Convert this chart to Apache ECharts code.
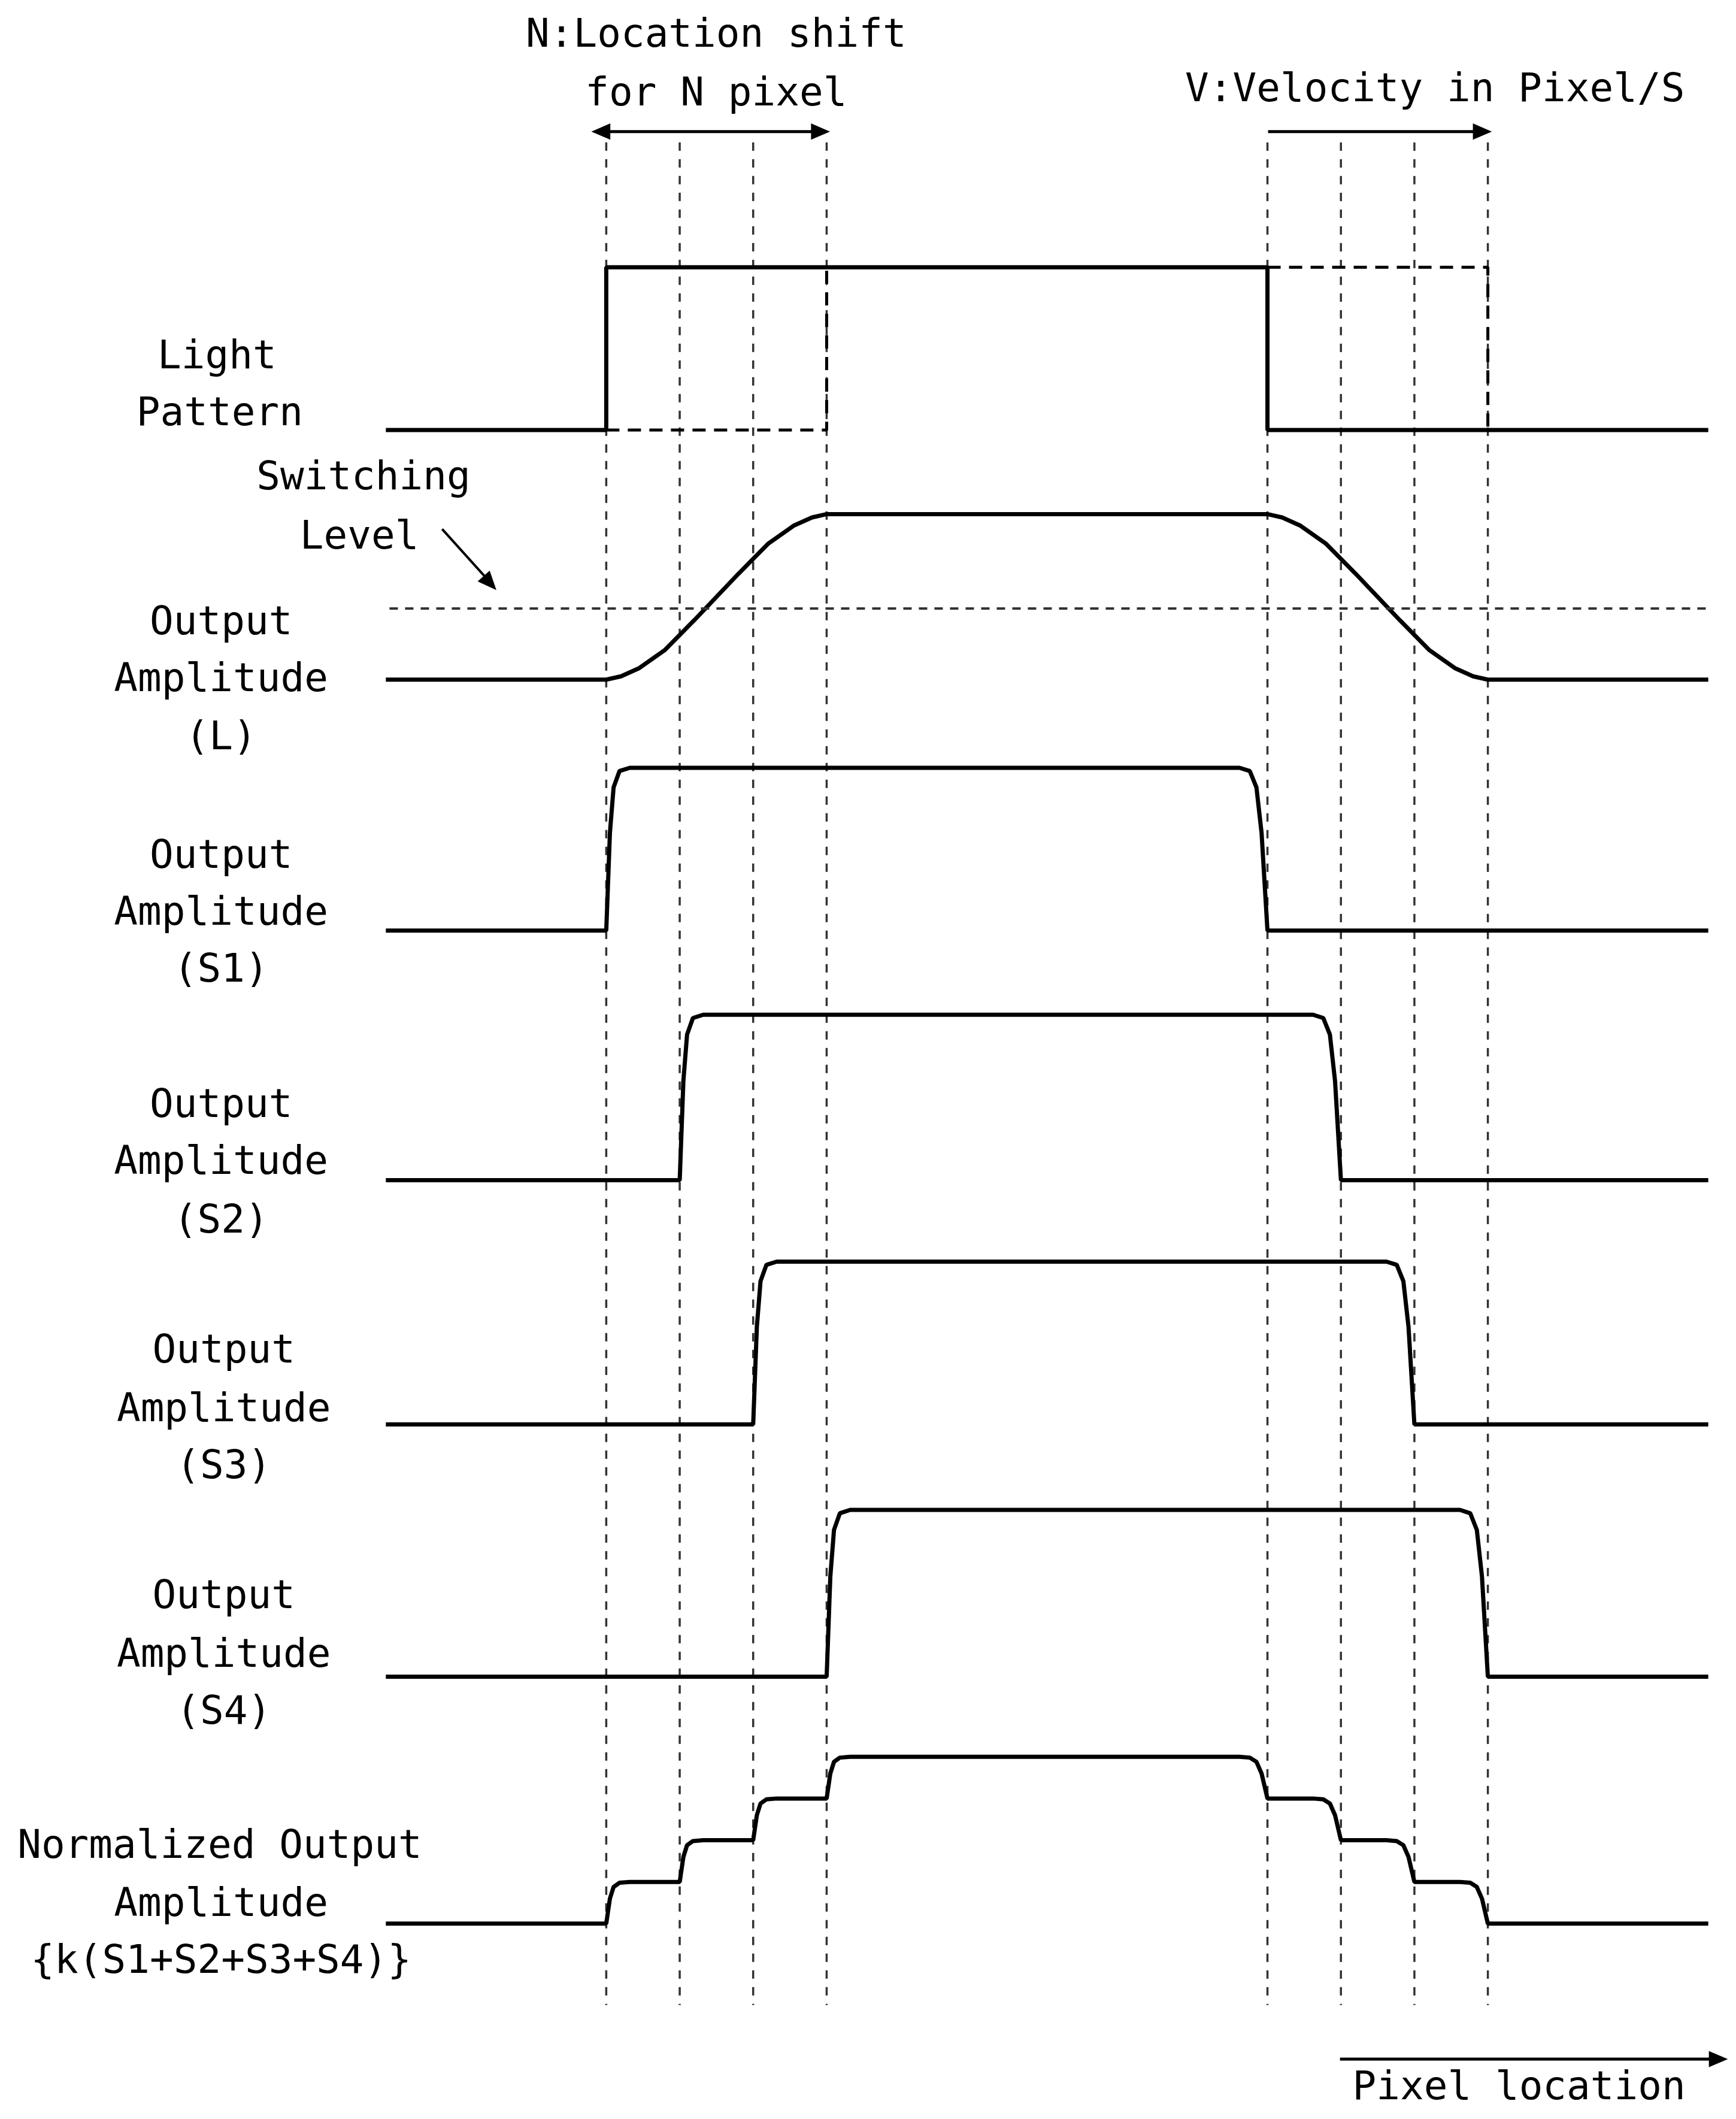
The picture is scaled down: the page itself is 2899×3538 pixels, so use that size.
<!DOCTYPE html>
<html><head><meta charset="utf-8">
<script src="https://cdn.jsdelivr.net/npm/echarts@6/dist/echarts.min.js"></script>
<style>html,body{margin:0;padding:0;background:#fff}#c{width:2899px;height:3538px}</style>
</head><body><div id="c"></div>
<script>
// x in pixel-location units (one unit = one pixel shift); rows in reference layout units
var gridX = [0,1,2,3,9,10,11,12];
var rowBase = [317,501,686,870,1050,1236,1418];
var rowHigh = [197,379,566,748,930,1113,1295];
var lightSolid = [[-3,0],[0,0],[0,1],[9,1],[9,0],[15,0]];
var lightDashA = [[0,0],[3,0],[3,1]];
var lightDashB = [[9,1],[12,1],[12,0]];
var outL = [[-3,0],[0,0],[0.2,0.02],[0.45,0.07],[0.8,0.18],[1.2,0.36],[1.5,0.5],[1.8,0.64],[2.2,0.82],[2.55,0.93],[2.8,0.98],[3,1],[9,1],[9.2,0.98],[9.45,0.93],[9.8,0.82],[10.2,0.64],[10.5,0.5],[10.8,0.36],[11.2,0.18],[11.55,0.07],[11.8,0.02],[12,0],[15,0]];
var switchLevel = 0.43;
var riseShape = [[0,0],[0.05,0.6],[0.1,0.88],[0.18,0.98],[0.32,1]];
var fallShape = [[-0.38,1],[-0.24,0.98],[-0.15,0.88],[-0.08,0.6],[0,0]];
var sEdges = [[0,9],[1,10],[2,11],[3,12]];
var normRises = [0,1,2,3];
var normFalls = [9,10,11,12];
var S = 2899/1280;
var U = 54.17;

function toRow(r, pts){ return pts.map(function(p){ return [p[0], rowBase[r] + (rowHigh[r]-rowBase[r])*p[1]]; }); }
function pulse(e){
  var d=[[-3,0]];
  riseShape.forEach(function(p){d.push([e[0]+p[0],p[1]]);});
  fallShape.forEach(function(p){d.push([e[1]+p[0],p[1]]);});
  d.push([15,0]); return d;
}
function norm(){
  var d=[[-3,0]], lvl=0;
  normRises.forEach(function(k){ riseShape.forEach(function(p){d.push([k+p[0], lvl+0.25*p[1]]);}); lvl+=0.25; });
  normFalls.forEach(function(k){ fallShape.forEach(function(p){d.push([k+p[0], lvl-0.25+0.25*p[1]]);}); lvl-=0.25; });
  d.push([15,0]); return d;
}
var solid = {type:'line',showSymbol:false,symbol:'none',animation:false,lineStyle:{color:'#000',width:7}};
function ser(data,extra){ return Object.assign({},solid,{data:data},extra||{}); }
var dashed = {lineStyle:{color:'#000',width:5,type:[22,14]}};
var series = [];
gridX.forEach(function(x){ series.push(ser([[x,105],[x,1478]],{lineStyle:{color:'#333',width:3.5,type:[14,14]}})); });
series.push(ser(toRow(0,lightSolid)));
series.push(ser(toRow(0,lightDashA),dashed));
series.push(ser(toRow(0,lightDashB),dashed));
series.push(ser(toRow(1,outL)));
series.push(ser(toRow(1,[[-2.95,switchLevel],[15,switchLevel]]),{lineStyle:{color:'#333',width:4,type:[14,12]}}));
sEdges.forEach(function(e,i){ series.push(ser(toRow(2+i,pulse(e)))); });
series.push(ser(toRow(6,norm())));

var labels = [
 ['N:Location shift',528,27],['for N pixel',528,70],['V:Velocity in Pixel/S',1058,67],
 ['Light',160,264],['Pattern',162,306],['Switching',268,353],['Level',265,397],
 ['Output',163,460],['Amplitude',163,502],['(L)',163,545],
 ['Output',163,632],['Amplitude',163,674],['(S1)',163,716],
 ['Output',163,816],['Amplitude',163,858],['(S2)',163,901],
 ['Output',165,997],['Amplitude',165,1040],['(S3)',165,1082],
 ['Output',165,1178],['Amplitude',165,1221],['(S4)',165,1263],
 ['Normalized Output',162,1362],['Amplitude',163,1405],['{k(S1+S2+S3+S4)}',163,1447],
 ['Pixel location',1120,1540]
];
var g = labels.map(function(l){ return {type:'text',x:l[1]*S,y:l[2]*S,style:{text:l[0],x:0,y:0,align:'center',verticalAlign:'middle',font:'66px "DejaVu Sans Mono"',fill:'#000'}}; });
function line(pts,w){ return {type:'polyline',shape:{points:pts.map(function(p){return [p[0]*S,p[1]*S];})},style:{stroke:'#000',lineWidth:w,fill:null}}; }
function head(tip,dx,dy){
  var L=14,W=6, nx=-dy, ny=dx;
  var b=[tip[0]-dx*L,tip[1]-dy*L];
  return {type:'polygon',shape:{points:[[tip[0]*S,tip[1]*S],[(b[0]+nx*W)*S,(b[1]+ny*W)*S],[(b[0]-nx*W)*S,(b[1]-ny*W)*S]]},style:{fill:'#000'}};
}
g.push(line([[440,97],[608,97]],5)); g.push(head([436,97],-1,0)); g.push(head([612,97],1,0));
g.push(line([[935,97],[1096,97]],5)); g.push(head([1100,97],1,0));
g.push(line([[988,1518],[1268,1518]],5)); g.push(head([1274,1518],1,0));
g.push(line([[326,390],[362,430]],4)); g.push(head([366,435],0.67,0.74));

var chart = echarts.init(document.getElementById('c'));
chart.setOption({
  backgroundColor:'#fff', animation:false,
  grid:{left:0,right:0,top:0,bottom:0},
  xAxis:{type:'value',min:-447/U,max:(1280-447)/U,show:false},
  yAxis:{type:'value',min:0,max:1562,inverse:true,show:false},
  series:series, graphic:g
});
</script></body></html>
